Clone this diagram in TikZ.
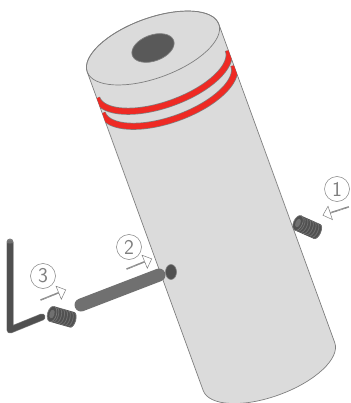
\documentclass[tikz,border=0pt]{standalone}
\usepackage{amsmath}
\usetikzlibrary{shapes.arrows}

\definecolor{bodygray}{HTML}{DBDBDB}
\definecolor{edgegray}{HTML}{7F7F7F}
\definecolor{steelgray}{HTML}{707070}
\definecolor{darksteel}{HTML}{505050}
\definecolor{bandred}{HTML}{EE2A24}

\tikzset{
  stepnum/.style={circle,draw=edgegray,fill=white,line width=0.5pt,minimum size=25pt,inner sep=0pt,text=edgegray,font=\sffamily\fontsize{21}{21}\selectfont},
  pusharrow/.style={single arrow,draw=edgegray,fill=white,line width=0.5pt,minimum height=27pt,minimum width=14pt,single arrow head extend=3.5pt,single arrow tip angle=85,inner sep=0pt},
  setscrew/.pic={
    \fill[darksteel] (0,-8) -- (21,-8) arc[start angle=-90,end angle=90,x radius=3.5,y radius=8] -- (0,8) -- cycle;
    \foreach \t in {3,6,...,21}
      \draw[steelgray,line width=0.8pt] (\t,-7.5) arc[start angle=-90,end angle=90,x radius=3.5,y radius=7.5];
    \draw[edgegray,fill=darksteel,line width=0.6pt] (0,0) ellipse[x radius=4.5,y radius=8];
    \fill[steelgray] (0,0) ellipse[x radius=2.5,y radius=4.5];
  }
}

\begin{document}
\begin{tikzpicture}[x=1pt,y=-1pt]
  \useasboundingbox (0,0) rectangle (350,403);

  % cylinder
  \begin{scope}[shift={(153,48)},rotate=20,y=1pt]
    \path[fill=bodygray,draw=edgegray,line width=0.7pt] (-70,0) -- (-70,-339) arc[start angle=180,end angle=360,x radius=70,y radius=30] -- (70,0) arc[start angle=0,end angle=180,x radius=70,y radius=30] -- cycle;
    \begin{scope}
      \clip (-70,0) -- (-70,-339) arc[start angle=180,end angle=360,x radius=70,y radius=30] -- (70,0) -- cycle;
      \foreach \d in {28,44} {
        \draw[edgegray,line width=7pt] (-70,-\d) arc[start angle=180,end angle=360,x radius=70,y radius=30];
        \draw[bandred,line width=5.6pt] (-70,-\d) arc[start angle=180,end angle=360,x radius=70,y radius=30];
      }
    \end{scope}
    \draw[edgegray,line width=0.7pt] (0,0) ellipse[x radius=70,y radius=30];
    \draw[edgegray,fill=darksteel!95,line width=0.7pt] (0,0) ellipse[x radius=22,y radius=13];
  \end{scope}

  % side hole and pin
  \draw[edgegray,fill=darksteel,line width=0.6pt] (171,272) ellipse[x radius=5.5,y radius=7.5];
  \draw[steelgray,line width=13pt,line cap=round] (81,305) -- (159,275);

  % hex key
  \draw[edgegray,line width=7pt,line join=round,line cap=round] (10,242) -- (10,330) -- (42,317);
  \draw[darksteel,line width=5.8pt,line join=round,line cap=round] (10,244) -- (10,330) -- (42,317);
  \fill[steelgray] (10,242) ellipse[x radius=3,y radius=1.6];

  % set screws
  \pic[rotate=-24,yscale=-1] at (298,223) {setscrew};
  \pic[rotate=-16,yscale=-1] at (52,314) {setscrew};

  % steps
  \node[stepnum] (num1) at (337,189) {1};
  \node[stepnum] (num2) at (129,247) {2};
  \node[stepnum] (num3) at (43,276) {3};
  \node[pusharrow,rotate=198] (arr1) at (336,211) {};
  \node[pusharrow,rotate=22] (arr2) at (139,264) {};
  \node[pusharrow,rotate=22] (arr3) at (53,295) {};
\end{tikzpicture}
\end{document}
